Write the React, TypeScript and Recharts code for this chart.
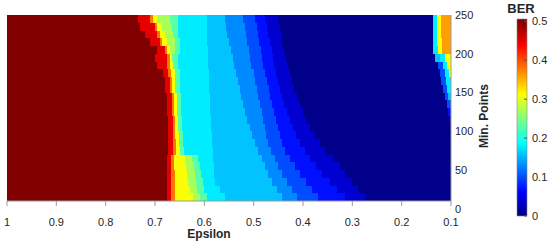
import React from 'react';
import { ComposedChart, XAxis, YAxis, ReferenceArea } from 'recharts';

const epsilonTicks = [1, 0.9, 0.8, 0.7, 0.6, 0.5, 0.4, 0.3, 0.2, 0.1];
const minPointsTicks = [0, 50, 100, 150, 200, 250];
const berTicks = [0, 0.1, 0.2, 0.3, 0.4, 0.5];

// lower edge of each Min. Points row, top row first (rows are 10 points tall)
const rowStarts = [240, 230, 220, 210, 200, 190, 180, 170, 160, 150, 140, 130, 120, 110, 100, 90, 80, 70, 60, 50, 40, 30, 20, 10];

// each row is a list of runs: [BER, epsilon where the run ends], starting at epsilon 1
const berRows: [number, number][][] = [
  [[0.5, 0.735], [0.45, 0.71], [0.38, 0.705], [0.31, 0.695], [0.27, 0.67], [0.23, 0.653], [0.178, 0.595], [0.158, 0.558], [0.13, 0.522], [0.1, 0.497], [0.07, 0.477], [0.04, 0.451], [0.005, 0.136], [0.178, 0.128], [0.31, 0.12], [0.36, 0.1]],
  [[0.5, 0.73], [0.45, 0.7], [0.38, 0.695], [0.31, 0.685], [0.27, 0.665], [0.23, 0.653], [0.178, 0.595], [0.158, 0.556], [0.13, 0.518], [0.1, 0.493], [0.07, 0.473], [0.04, 0.447], [0.005, 0.136], [0.178, 0.128], [0.31, 0.12], [0.36, 0.1]],
  [[0.5, 0.72], [0.45, 0.696], [0.38, 0.69], [0.31, 0.68], [0.27, 0.663], [0.23, 0.653], [0.178, 0.595], [0.158, 0.554], [0.13, 0.516], [0.1, 0.491], [0.07, 0.471], [0.04, 0.445], [0.005, 0.136], [0.178, 0.128], [0.31, 0.12], [0.36, 0.1]],
  [[0.5, 0.71], [0.45, 0.69], [0.38, 0.685], [0.31, 0.675], [0.27, 0.66], [0.23, 0.65], [0.178, 0.595], [0.158, 0.55], [0.13, 0.514], [0.1, 0.489], [0.07, 0.467], [0.04, 0.443], [0.005, 0.136], [0.178, 0.128], [0.31, 0.118], [0.36, 0.1]],
  [[0.5, 0.695], [0.45, 0.68], [0.38, 0.675], [0.31, 0.67], [0.27, 0.66], [0.23, 0.65], [0.178, 0.593], [0.158, 0.546], [0.13, 0.51], [0.1, 0.485], [0.07, 0.463], [0.04, 0.439], [0.005, 0.136], [0.178, 0.126], [0.31, 0.118], [0.36, 0.1]],
  [[0.5, 0.7], [0.45, 0.675], [0.38, 0.67], [0.31, 0.665], [0.23, 0.653], [0.178, 0.593], [0.158, 0.542], [0.13, 0.507], [0.1, 0.483], [0.07, 0.461], [0.04, 0.434], [0.005, 0.132], [0.158, 0.122], [0.178, 0.112], [0.31, 0.1]],
  [[0.5, 0.695], [0.45, 0.675], [0.38, 0.67], [0.31, 0.663], [0.23, 0.653], [0.178, 0.593], [0.158, 0.54], [0.13, 0.505], [0.1, 0.481], [0.07, 0.459], [0.04, 0.43], [0.005, 0.126], [0.1, 0.116], [0.178, 0.108], [0.31, 0.1]],
  [[0.5, 0.684], [0.45, 0.674], [0.38, 0.667], [0.31, 0.66], [0.23, 0.65], [0.178, 0.59], [0.158, 0.536], [0.13, 0.5], [0.1, 0.477], [0.07, 0.455], [0.04, 0.426], [0.005, 0.122], [0.1, 0.112], [0.178, 0.104], [0.31, 0.1]],
  [[0.5, 0.68], [0.45, 0.67], [0.38, 0.666], [0.31, 0.66], [0.23, 0.65], [0.178, 0.59], [0.158, 0.532], [0.13, 0.497], [0.1, 0.473], [0.07, 0.451], [0.04, 0.422], [0.005, 0.12], [0.1, 0.11], [0.178, 0.1]],
  [[0.5, 0.68], [0.45, 0.67], [0.38, 0.666], [0.31, 0.66], [0.23, 0.649], [0.178, 0.59], [0.158, 0.528], [0.13, 0.493], [0.1, 0.469], [0.07, 0.447], [0.04, 0.418], [0.005, 0.116], [0.1, 0.108], [0.178, 0.1]],
  [[0.5, 0.676], [0.45, 0.666], [0.38, 0.662], [0.31, 0.655], [0.23, 0.647], [0.178, 0.589], [0.158, 0.526], [0.13, 0.491], [0.1, 0.467], [0.07, 0.443], [0.04, 0.412], [0.005, 0.112], [0.1, 0.106], [0.158, 0.1]],
  [[0.5, 0.676], [0.45, 0.666], [0.38, 0.662], [0.31, 0.655], [0.23, 0.647], [0.178, 0.589], [0.158, 0.522], [0.13, 0.487], [0.1, 0.463], [0.07, 0.439], [0.04, 0.406], [0.005, 0.108], [0.1, 0.1]],
  [[0.5, 0.676], [0.45, 0.666], [0.38, 0.662], [0.31, 0.655], [0.23, 0.647], [0.178, 0.589], [0.158, 0.518], [0.13, 0.483], [0.1, 0.459], [0.07, 0.432], [0.04, 0.4], [0.005, 0.106], [0.07, 0.1]],
  [[0.5, 0.674], [0.45, 0.664], [0.38, 0.66], [0.31, 0.653], [0.23, 0.645], [0.178, 0.587], [0.158, 0.514], [0.13, 0.481], [0.1, 0.455], [0.07, 0.426], [0.04, 0.394], [0.005, 0.104], [0.04, 0.1]],
  [[0.5, 0.674], [0.45, 0.664], [0.38, 0.66], [0.31, 0.653], [0.23, 0.645], [0.178, 0.587], [0.158, 0.507], [0.13, 0.477], [0.1, 0.451], [0.07, 0.42], [0.04, 0.386], [0.005, 0.1]],
  [[0.5, 0.674], [0.45, 0.664], [0.38, 0.66], [0.31, 0.651], [0.23, 0.643], [0.178, 0.585], [0.158, 0.503], [0.13, 0.475], [0.1, 0.447], [0.07, 0.414], [0.04, 0.376], [0.005, 0.1]],
  [[0.5, 0.674], [0.45, 0.664], [0.38, 0.657], [0.31, 0.651], [0.23, 0.643], [0.178, 0.585], [0.158, 0.497], [0.13, 0.471], [0.1, 0.443], [0.07, 0.406], [0.04, 0.366], [0.005, 0.1]],
  [[0.5, 0.674], [0.45, 0.664], [0.38, 0.657], [0.31, 0.649], [0.23, 0.641], [0.178, 0.583], [0.158, 0.491], [0.13, 0.465], [0.1, 0.436], [0.07, 0.396], [0.04, 0.355], [0.005, 0.1]],
  [[0.5, 0.676], [0.45, 0.668], [0.38, 0.662], [0.31, 0.639], [0.27, 0.625], [0.23, 0.613], [0.178, 0.583], [0.158, 0.483], [0.13, 0.457], [0.1, 0.426], [0.07, 0.386], [0.04, 0.339], [0.005, 0.1]],
  [[0.5, 0.676], [0.45, 0.668], [0.38, 0.662], [0.31, 0.637], [0.27, 0.621], [0.23, 0.609], [0.178, 0.58], [0.158, 0.477], [0.13, 0.451], [0.1, 0.416], [0.07, 0.374], [0.04, 0.325], [0.005, 0.1]],
  [[0.5, 0.676], [0.45, 0.668], [0.38, 0.66], [0.31, 0.635], [0.27, 0.619], [0.23, 0.607], [0.178, 0.58], [0.158, 0.471], [0.13, 0.443], [0.1, 0.406], [0.07, 0.362], [0.04, 0.315], [0.005, 0.1]],
  [[0.5, 0.676], [0.45, 0.668], [0.38, 0.66], [0.31, 0.633], [0.27, 0.617], [0.23, 0.603], [0.178, 0.578], [0.158, 0.463], [0.13, 0.432], [0.1, 0.394], [0.07, 0.345], [0.04, 0.3], [0.005, 0.1]],
  [[0.5, 0.676], [0.45, 0.668], [0.38, 0.66], [0.31, 0.629], [0.27, 0.615], [0.23, 0.6], [0.178, 0.568], [0.158, 0.453], [0.13, 0.422], [0.1, 0.382], [0.07, 0.331], [0.04, 0.289], [0.005, 0.1]],
  [[0.5, 0.676], [0.45, 0.668], [0.38, 0.66], [0.31, 0.623], [0.27, 0.609], [0.23, 0.595], [0.178, 0.558], [0.158, 0.443], [0.13, 0.412], [0.1, 0.37], [0.07, 0.315], [0.04, 0.274], [0.005, 0.1]],
];

const BER_MAX = 0.5;
const FONT = '"Liberation Sans", Arial, sans-serif';
const TEXT = '#262626';
const AXIS = '#9a9a9a';

// MATLAB "jet" colour map
function jet(v: number) {
  const t = Math.max(0, Math.min(1, v / BER_MAX));
  const c = (a: number) => Math.round(255 * Math.max(0, Math.min(1, a)));
  const r = c(Math.min(4 * t - 1.5, -4 * t + 4.5));
  const g = c(Math.min(4 * t - 0.5, -4 * t + 3.5));
  const b = c(Math.min(4 * t + 0.5, -4 * t + 2.5));
  return `rgb(${r},${g},${b})`;
}

const cells = berRows.flatMap((row, i) => {
  let from = 1;
  return row.map(([ber, to], j) => {
    const cell = { key: `${i}-${j}`, x1: from, x2: to, y1: rowStarts[i], y2: rowStarts[i] + 10, ber };
    from = to;
    return cell;
  });
});

const jetStops = [0, 0.0625, 0.1875, 0.3125, 0.4375, 0.5];
const CB_MAX = 0.506;

const cbTick = (props: any) => {
  const { x, y, payload } = props;
  return (
    <g>
      <line x1={x - 8} x2={x - 5} y1={y} y2={y} stroke="#555" strokeWidth={1} />
      <text x={x} y={y} dy="0.35em" fill={TEXT} fontSize={11} fontFamily={FONT}>{String(payload.value)}</text>
    </g>
  );
};

export default function App() {
  return (
    <div style={{ position: 'absolute', left: 0, top: 0, width: 550, height: 243, background: '#fff', fontFamily: FONT }}>
      <div style={{ position: 'absolute', left: 0, top: 0 }}>
        <ComposedChart width={550} height={243} margin={{ top: 15, right: 59, left: 7, bottom: 12 }}>
          <XAxis
            type="number"
            dataKey="x"
            domain={[0.1, 1]}
            reversed
            ticks={epsilonTicks}
            interval={0}
            tickFormatter={(v: number) => String(v)}
            height={30}
            tickSize={5}
            tickMargin={12}
            stroke={AXIS}
            tick={{ fill: TEXT, fontSize: 11, fontFamily: FONT }}
            allowDataOverflow
          />
          <YAxis
            type="number"
            dataKey="y"
            orientation="right"
            domain={[10, 250]}
            ticks={minPointsTicks}
            interval={0}
            width={40}
            tickSize={0}
            tickMargin={4}
            stroke={AXIS}
            tick={{ fill: TEXT, fontSize: 11, fontFamily: FONT }}
            allowDataOverflow
          />
          {cells.map((c) => (
            <ReferenceArea
              key={c.key}
              x1={c.x1}
              x2={c.x2}
              y1={c.y1}
              y2={c.y2}
              ifOverflow="visible"
              shape={(p: any) => (
                <rect x={p.x} y={p.y} width={p.width} height={p.height} fill={jet(c.ber)} shapeRendering="crispEdges" />
              )}
            />
          ))}
        </ComposedChart>
      </div>
      <div style={{ position: 'absolute', left: 0, top: 0 }}>
        <ComposedChart width={550} height={243} margin={{ top: 19, right: 3, left: 517, bottom: 27 }}>
          <defs>
            <linearGradient id="jetBar" x1="0" y1="1" x2="0" y2="0">
              {jetStops.map((s) => (
                <stop key={s} offset={s / CB_MAX} stopColor={jet(s)} />
              ))}
              <stop offset={1} stopColor={jet(BER_MAX)} />
            </linearGradient>
          </defs>
          <XAxis type="number" dataKey="x" domain={[0, 1]} height={0} tick={false} axisLine={false} tickLine={false} allowDataOverflow />
          <YAxis
            type="number"
            dataKey="v"
            orientation="right"
            domain={[0, CB_MAX]}
            ticks={berTicks}
            interval={0}
            width={20}
            tickSize={0}
            tickMargin={5}
            axisLine={false}
            tickLine={false}
            tick={cbTick}
            allowDataOverflow
          />
          <ReferenceArea
            x1={0}
            x2={1}
            y1={0}
            y2={CB_MAX}
            ifOverflow="visible"
            shape={(p: any) => (
              <rect x={p.x} y={p.y} width={p.width} height={p.height} fill="url(#jetBar)" stroke="#888" strokeWidth={0.6} />
            )}
          />
        </ComposedChart>
      </div>
      <div style={{ position: 'absolute', left: 209, top: 234, transform: 'translate(-50%, -50%)', fontSize: 12, fontWeight: 'bold', color: TEXT, whiteSpace: 'nowrap' }}>Epsilon</div>
      <div style={{ position: 'absolute', left: 484, top: 116, transform: 'translate(-50%, -50%) rotate(-90deg)', fontSize: 12, fontWeight: 'bold', color: TEXT, whiteSpace: 'nowrap' }}>Min. Points</div>
      <div style={{ position: 'absolute', left: 521, top: 8, transform: 'translate(-50%, -50%)', fontSize: 13, fontWeight: 'bold', color: TEXT, whiteSpace: 'nowrap' }}>BER</div>
    </div>
  );
}
